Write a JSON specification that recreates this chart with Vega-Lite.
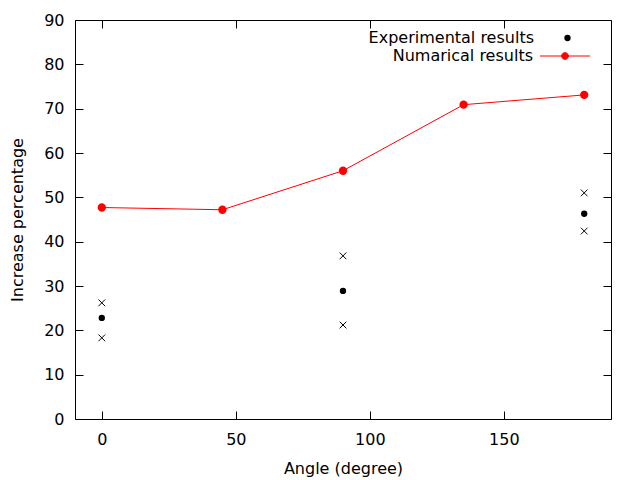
{
  "$schema": "https://vega.github.io/schema/vega-lite/v6.json",
  "width": 536,
  "height": 399,
  "autosize": {"type": "none"},
  "padding": {"left": 75, "top": 20, "right": 29, "bottom": 61},
  "background": "white",
  "config": {
    "view": {"stroke": "black", "strokeWidth": 1},
    "font": "DejaVu Sans",
    "axis": {
      "grid": false,
      "domain": false,
      "tickColor": "black",
      "tickSize": -8,
      "tickWidth": 1,
      "labelFont": "DejaVu Sans",
      "labelFontSize": 16,
      "labelColor": "black",
      "titleFont": "DejaVu Sans",
      "titleFontSize": 16,
      "titleFontWeight": "normal",
      "titleColor": "black"
    },
    "legend": {"padding": 0, "labelFont": "DejaVu Sans", "labelFontSize": 16, "labelColor": "black", "labelAlign": "right", "labelLimit": 400}
  },
  "datasets": {
    "numerical": [
      {"angle": 0, "value": 47.7, "series": "Numarical results"},
      {"angle": 45, "value": 47.2, "series": "Numarical results"},
      {"angle": 90, "value": 56.0, "series": "Numarical results"},
      {"angle": 135, "value": 70.9, "series": "Numarical results"},
      {"angle": 180, "value": 73.1, "series": "Numarical results"}
    ],
    "experimental": [
      {"angle": 0, "value": 22.8, "series": "Experimental results"},
      {"angle": 90, "value": 28.9, "series": "Experimental results"},
      {"angle": 180, "value": 46.3, "series": "Experimental results"}
    ],
    "bounds": [
      {"angle": 0, "value": 26.2},
      {"angle": 0, "value": 18.3},
      {"angle": 90, "value": 36.8},
      {"angle": 90, "value": 21.2},
      {"angle": 180, "value": 51.0},
      {"angle": 180, "value": 42.4}
    ]
  },
  "layer": [
    {
      "data": {"name": "bounds"},
      "mark": {"type": "point", "shape": "M-1,-1L1,1M-1,1L1,-1", "filled": false, "stroke": "black", "strokeWidth": 1, "size": 45, "opacity": 1},
      "encoding": {
        "x": {"field": "angle", "type": "quantitative", "scale": {"domain": [-10, 190], "nice": false, "zero": false},
              "axis": {"orient": "bottom", "values": [0, 50, 100, 150], "title": "Angle (degree)", "labelPadding": 20, "titleY": 54, "titleBaseline": "alphabetic"}},
        "y": {"field": "value", "type": "quantitative", "scale": {"domain": [0, 90], "nice": false},
              "axis": {"orient": "left", "values": [0, 10, 20, 30, 40, 50, 60, 70, 80, 90], "title": "Increase percentage", "labelPadding": 19, "titleX": -53, "titleBaseline": "alphabetic", "titleAngle": -90}}
      }
    },
    {
      "data": {"name": "bounds"},
      "mark": {"type": "point", "opacity": 0},
      "encoding": {
        "x": {"field": "angle", "type": "quantitative",
              "axis": {"orient": "top", "values": [0, 50, 100, 150], "labels": false, "title": null}},
        "y": {"field": "value", "type": "quantitative",
              "axis": {"orient": "right", "values": [0, 10, 20, 30, 40, 50, 60, 70, 80, 90], "labels": false, "title": null}}
      }
    },
    {
      "data": {"name": "experimental"},
      "mark": {"type": "point", "shape": "circle", "filled": true, "size": 40, "opacity": 1},
      "encoding": {
        "x": {"field": "angle", "type": "quantitative", "axis": null},
        "y": {"field": "value", "type": "quantitative", "axis": null},
        "fill": {"field": "series", "type": "nominal",
                  "scale": {"domain": ["Experimental results"], "range": ["black"]},
                  "legend": {"orient": "none", "legendX": 484.5, "legendY": 10, "title": null, "labelOffset": -41.5, "symbolType": "circle", "symbolSize": 40, "symbolStrokeWidth": 0}}
      }
    },
    {
      "data": {"name": "numerical"},
      "mark": {"type": "line", "color": "red", "strokeWidth": 1, "point": {"filled": true, "fill": "red", "color": "red", "size": 40, "opacity": 1}},
      "encoding": {
        "x": {"field": "angle", "type": "quantitative", "axis": null},
        "y": {"field": "value", "type": "quantitative", "axis": null},
        "stroke": {"field": "series", "type": "nominal",
                   "scale": {"domain": ["Numarical results"], "range": ["red"]},
                   "legend": {"orient": "none", "legendX": 477, "legendY": 23, "title": null, "labelOffset": -45,
                              "symbolType": "M-2,0L2,0M-0.27,0A0.27,0.27 0 1,0 0.27,0A0.27,0.27 0 1,0 -0.27,0Z",
                              "symbolSize": 625, "symbolFillColor": "red", "symbolStrokeColor": "red", "symbolStrokeWidth": 1}}
      }
    }
  ],
  "resolve": {"axis": {"x": "independent", "y": "independent"}}
}
